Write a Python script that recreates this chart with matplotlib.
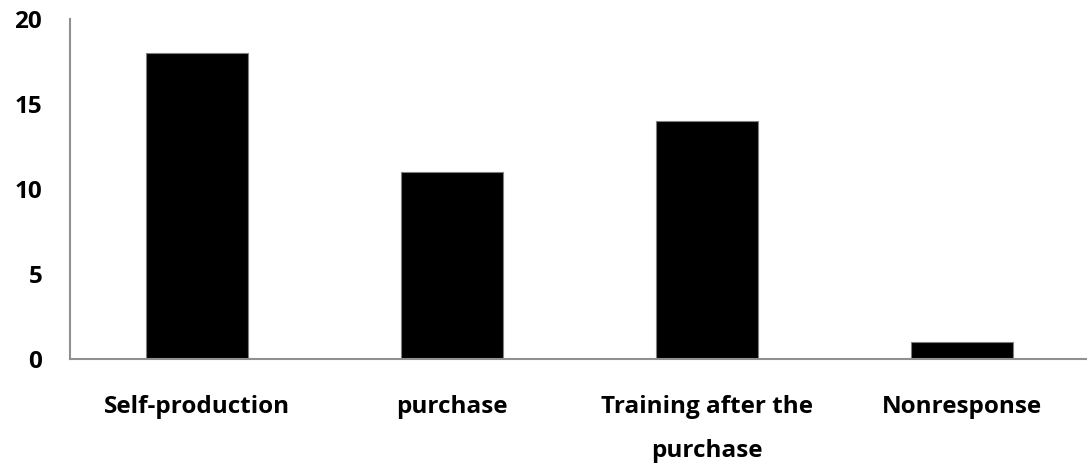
import matplotlib

matplotlib.use("Agg")
import matplotlib.pyplot as plt

# Chart data
CATEGORIES = ["Self-production", "purchase", "Training after the\npurchase", "Nonresponse"]
VALUES = [18, 11, 14, 1]
Y_TICKS = [0, 5, 10, 15, 20]


def main():
    plt.rcParams["font.family"] = ["Open Sans", "DejaVu Sans"]
    fig = plt.figure(figsize=(10.87, 4.66), dpi=100)
    ax = fig.add_axes([70 / 1087, 107 / 466, 1 - 70 / 1087, 340 / 466])

    x = range(len(CATEGORIES))
    ax.bar(x, VALUES, width=0.4, color="black", edgecolor="#808080", linewidth=0.8)

    ax.set_xlim(-0.5, 3.49)
    ax.set_ylim(0, 20)
    ax.set_yticks(Y_TICKS)
    ax.set_yticklabels([str(v) for v in Y_TICKS], fontsize=17.5, fontweight="bold")
    ax.set_xticks(list(x))
    ax.set_xticklabels(CATEGORIES, fontsize=17.5, fontweight="bold", linespacing=2.08, va="top")
    ax.tick_params(axis="y", length=0, pad=20)
    ax.tick_params(axis="x", length=0, pad=26)

    for side in ("top", "right"):
        ax.spines[side].set_visible(False)
    for side in ("left", "bottom"):
        ax.spines[side].set_color("#909090")
        ax.spines[side].set_linewidth(1.5)

    fig.savefig("out.png", dpi=100)
    plt.close(fig)


if __name__ == "__main__":
    main()
